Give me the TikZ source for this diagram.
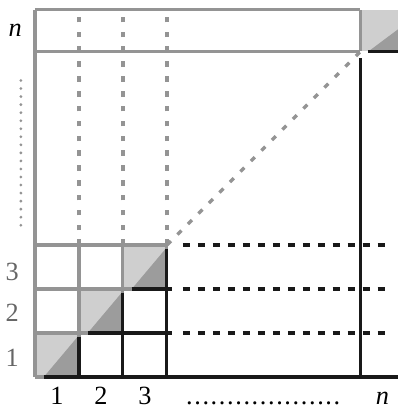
\documentclass[tikz,border=0pt]{standalone}
\usepackage{fontspec}
\setmainfont{Liberation Serif}
\newcommand{\dotrow}{.\foreach \i in {1,...,18}{\kern1.05pt.}}
\begin{document}
\begin{tikzpicture}[font=\fontsize{17}{20}\selectfont]

%culori si stiluri
\definecolor{celllight}{gray}{0.81}
\definecolor{celldark}{gray}{0.61}
\definecolor{gridgray}{gray}{0.58}
\tikzset{
    gray line/.style={draw=gridgray, line width=2pt},
    black line/.style={draw=black!90, line width=2pt},
    gray dash/.style={draw=gridgray, line width=2.1pt, dash pattern=on 3.6pt off 6pt},
    black dash/.style={draw=black!90, line width=2.2pt, dash pattern=on 4.5pt off 5.2pt}
}
\def\N{7.4}

\useasboundingbox (-0.795,-0.705) rectangle (8.25,8.57);

%celule pe diagonala
\foreach \k in {0,1,2}{
    \fill[celllight] (\k,\k) rectangle ++(1,1);
    \fill[celldark] (\k+0.2,\k) -- (\k+1,\k) -- (\k+1,\k+0.95) -- cycle;
}
\fill[celllight] (\N,\N) rectangle (8.3,\N+0.95);
\fill[celldark] (\N+0.18,\N) -- (\N+1.45,\N) -- (\N+1.45,\N+0.95) -- cycle;

%grila gri
\foreach \k in {0,...,3}{
    \draw[gray line] (0,\k) --++(3,0);
    \draw[gray line] (\k,0) --++(0,3);
}
\draw[gray line] (0,3) -- (0,\N+0.95);
\draw[gray line] (0,\N) --++(\N,0);
\draw[gray line] (0,\N+0.95) --++(\N,0);
\draw[gray line] (\N,\N) --++(0,0.95);
\foreach \k in {1,2,3}
    \draw[gray dash] (\k,3) -- (\k,\N+0.95);
\draw[gray dash] (3,3) -- (\N,\N);

%linii negre
\draw[black line] (0.2,0) -- (8.3,0);
\foreach \k in {1,2,3}
    \draw[black line] (\k,\k-0.08) -- (\k,0);
\foreach \k in {1,2}
    \draw[black line] (\k+0.2,\k) -- (3.12,\k);
\draw[black line] (\N,\N-0.15) -- (\N,0);
\draw[black line] (\N+0.18,\N) -- (8.3,\N);
\foreach \k in {1,2,3}
    \draw[black dash] (3.36,\k) -- (8.1,\k);

%puncte
\draw[gridgray, line width=2pt, line cap=round, dash pattern=on 0pt off 5.2pt] (-0.32,3.45) -- (-0.32,6.82);

%etichete
\node (rown) at (-0.45,7.87) {\textit{n}};
\node[text=black!60] (row3) at (-0.52,2.39) {3};
\node[text=black!60] (row2) at (-0.52,1.45) {2};
\node[text=black!60] (row1) at (-0.52,0.43) {1};
\node[anchor=base] (col1) at (0.5,-0.62) {1};
\node[anchor=base] (col2) at (1.5,-0.62) {2};
\node[anchor=base] (col3) at (2.5,-0.62) {3};
\node[anchor=base west, inner sep=0pt] (coldots) at (3.43,-0.62) {\dotrow};
\node[anchor=base] (coln) at (7.9,-0.62) {\textit{n}};

\end{tikzpicture}
\end{document}
